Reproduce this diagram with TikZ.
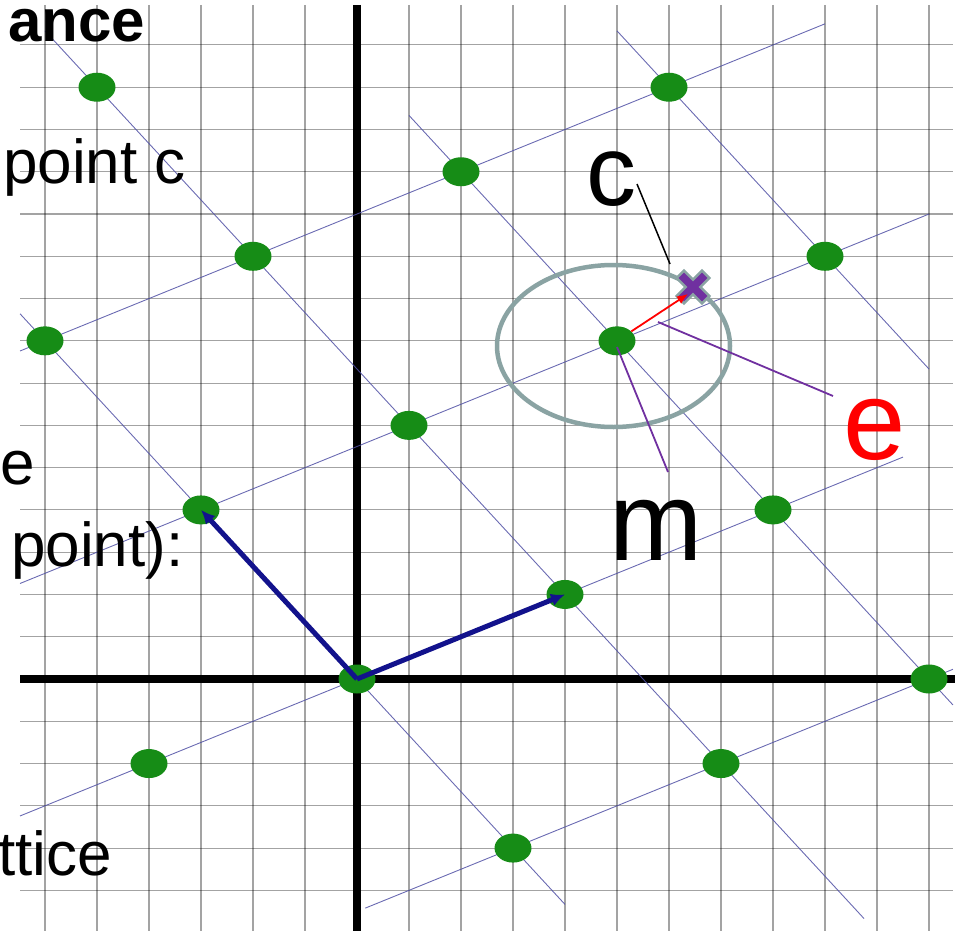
\documentclass[tikz,border=0pt]{standalone}
\usepackage{fontspec}
\setmainfont{Liberation Sans}
\usetikzlibrary{arrows.meta,shapes.geometric}
\definecolor{dotgreen}{RGB}{22,140,22}
\definecolor{latline}{RGB}{80,80,165}
\definecolor{basisblue}{RGB}{18,18,140}
\definecolor{ringgray}{RGB}{138,163,163}
\definecolor{xpurple}{RGB}{112,48,160}
\begin{document}
\begin{tikzpicture}[x=1pt,y=-1pt,
  gridline/.style={black,opacity=0.36,line width=1.1pt},
  axisline/.style={black,line width=8pt},
  latticeline/.style={latline,line width=0.9pt,opacity=0.85},
  lpt/.style={ellipse,fill=dotgreen,minimum width=37pt,minimum height=29pt,inner sep=0pt},
  basisarrow/.style={basisblue,line width=5pt,-{Latex[length=14pt,width=13pt]}},
  leader/.style={xpurple,line width=1.8pt},
  bigsans/.style={font=\fontsize{62}{70}\selectfont,inner sep=0pt},
  biglabel/.style={inner sep=0pt,anchor=base},
]
\useasboundingbox (0,0) rectangle (969,931);
% grid
\foreach \k in {-6,...,11} \draw[gridline] ({357+52*\k},5) -- ({357+52*\k},931);
\foreach \k in {-5,...,15} \draw[gridline] (20,{679-42.27*\k}) -- (953,{679-42.27*\k});
% axes
\draw[axisline] (357,5) -- (357,931);
\draw[axisline] (20,679) -- (955,679);
% lattice
\begin{scope}[shift={(357pt,-679pt)},x=52pt,y=42.27pt]
  \draw[latticeline] (-6.48,7.76) -- (9,15.5);
  \draw[latticeline] (-6.48,2.26) -- (11,11);
  \draw[latticeline] (-6.48,-3.24) -- (10.5,5.25);
  \draw[latticeline] (0.16,-5.42) -- (11.46,0.23);
  \draw[latticeline] (-6.48,8.64) -- (4,-5.333);
  \draw[latticeline] (-6,15.333) -- (9.75,-5.667);
  \draw[latticeline] (1,13.333) -- (11.46,-0.613);
  \draw[latticeline] (5,15.333) -- (11,7.333);
  \node[lpt] (o) at (0,0) {};
  \node[lpt] (b1) at (4,2) {};
  \node[lpt] (b2) at (-3,4) {};
  \node[lpt] (p11) at (1,6) {};
  \node[lpt] (p21) at (5,8) {};
  \node[lpt] (p12) at (-2,10) {};
  \node[lpt] (p22) at (2,12) {};
  \node[lpt] (p32) at (6,14) {};
  \node[lpt] (p02) at (-6,8) {};
  \node[lpt] (p13) at (-5,14) {};
  \node[lpt] (p31) at (9,10) {};
  \node[lpt] (p20) at (8,4) {};
  \node[lpt] (p2m1) at (11,0) {};
  \node[lpt] (p1m1) at (7,-2) {};
  \node[lpt] (p0m1) at (3,-4) {};
  \node[lpt] (pm10) at (-4,-2) {};
  \draw[basisarrow] (o.center) -- (b1.center);
  \draw[basisarrow] (o.center) -- (b2.center);
\end{scope}
% circle around closest point
\node[draw=ringgray,line width=4.5pt,ellipse,minimum width=233pt,minimum height=162pt,inner sep=0pt] (ring) at (613.5,346) {};
% leaders
\coordinate (cl1) at (637,184);
\coordinate (cl2) at (670,264);
\draw[black,line width=1.5pt] (cl1) -- (cl2);
\coordinate (el1) at (658,322);
\coordinate (el2) at (833,396);
\draw[leader] (el1) -- (el2);
\coordinate (ml1) at (617,347);
\coordinate (ml2) at (668,472);
\draw[leader] (ml1) -- (ml2);
% target point c
\coordinate (xc) at (693,287);
\begin{scope}[shift={(693pt,-287pt)},rotate=45]
  \filldraw[fill=xpurple,draw=ringgray,line width=2.5pt]
    (5.2,18) -- (5.2,5.2) -- (18,5.2) -- (18,-5.2) -- (5.2,-5.2) -- (5.2,-18)
    -- (-5.2,-18) -- (-5.2,-5.2) -- (-18,-5.2) -- (-18,5.2) -- (-5.2,5.2) -- (-5.2,18) -- cycle;
\end{scope}
% error vector
\coordinate (xtip) at (688,294);
\draw[red,line width=1.8pt,-{Latex[length=11pt,width=9pt]}] (p21) -- (xtip);
% labels
\node[biglabel,font=\fontsize{100}{110}\selectfont] (clab) at (611.5,205) {c};
\node[biglabel,font=\fontsize{112}{120}\selectfont,text=red] (elab) at (875,459) {e};
\node[biglabel,font=\fontsize{112}{120}\selectfont] (mlab) at (656,560) {m};
% left texts
\node[inner sep=0pt,anchor=base west,font=\bfseries\fontsize{60}{68}\selectfont] (t1) at (8,42) {ance};
\node[bigsans,anchor=base west] (t2) at (3,183) {point c};
\node[bigsans,anchor=base west] (t3) at (0,484) {e};
\node[bigsans,anchor=base west] (t4) at (11,566) {point):};
\node[bigsans,anchor=base east] (t5) at (112,875) {ttice};
\end{tikzpicture}
\end{document}
